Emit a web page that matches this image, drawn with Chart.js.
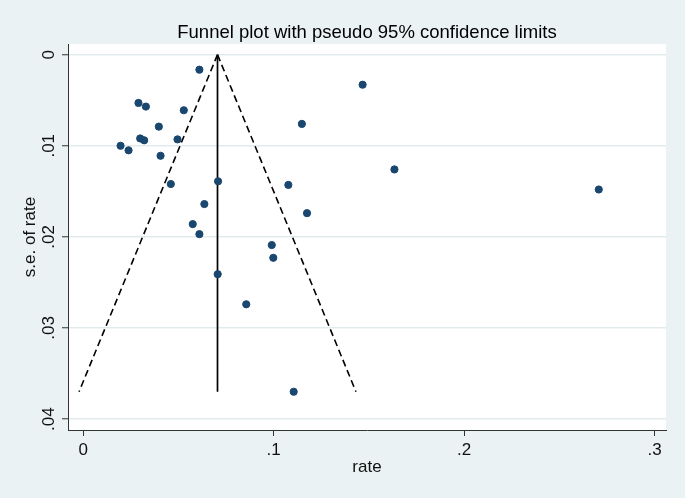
<!DOCTYPE html>
<html>
<head>
<meta charset="utf-8">
<script src="https://cdn.jsdelivr.net/npm/chart.js@4/dist/chart.umd.min.js"></script>
<style>
  html, body { margin: 0; padding: 0; background: #EAF2F3; }
  #wrap { width: 685px; height: 498px; }
</style>
</head>
<body>
<div id="wrap"><canvas id="grafico" width="685" height="498"></canvas></div>
<script>
// Estudos (taxa e erro padrão)
const rateValues = [0.061, 0.1467, 0.029, 0.0329, 0.0528, 0.1148, 0.0397, 0.0299, 0.0495, 0.032,
  0.0196, 0.0238, 0.0406, 0.1634, 0.0708, 0.046, 0.1077, 0.2707, 0.0636, 0.1175,
  0.0575, 0.061, 0.099, 0.0998, 0.0706, 0.0856, 0.1105]
const seValues = [0.00165, 0.0033, 0.0053, 0.0057, 0.0061, 0.0076, 0.0079, 0.0092, 0.0093, 0.0094,
  0.0100, 0.0105, 0.0111, 0.0126, 0.0139, 0.0142, 0.0143, 0.0148, 0.0164, 0.0174,
  0.0186, 0.0197, 0.0209, 0.0223, 0.0241, 0.0274, 0.0370]

// Linhas do funil: [rate, se]
const centerLine = [[0.0705, 0], [0.0705, 0.037]]
const lowerLimit = [[0.0705, 0], [-0.0022, 0.037]]
const upperLimit = [[0.0705, 0], [0.1432, 0.037]]

const xTicks = [0, 0.1, 0.2, 0.3]
const xTickLabels = ["0", ".1", ".2", ".3"]
const yTicks = [0, 0.01, 0.02, 0.03, 0.04]
const yTickLabels = ["0", ".01", ".02", ".03", ".04"]

const titulo = "Funnel plot with pseudo 95% confidence limits"
const fonte = "'Liberation Sans', Arial, sans-serif"

const toPts = arr => arr.map(([x, y]) => ({ x, y }))

// fundo da figura e área branca do gráfico
const fundoPlugin = {
  id: "fundo",
  beforeDraw(chart) {
    const { ctx, chartArea: a } = chart
    ctx.save()
    ctx.fillStyle = "#EAF2F3"
    ctx.fillRect(0, 0, chart.width, chart.height)
    ctx.fillStyle = "#FFFFFF"
    ctx.fillRect(a.left, a.top, a.right - a.left, a.bottom - a.top)
    ctx.restore()
  },
  afterDraw(chart) {
    const { ctx, chartArea: a } = chart
    ctx.save()
    ctx.fillStyle = "#000000"
    ctx.font = "18.5px " + fonte
    ctx.textAlign = "center"
    ctx.textBaseline = "middle"
    ctx.fillText(titulo, (a.left + a.right) / 2, 32.5)
    ctx.restore()
  }
}

const linha = (pts, dash) => ({
  type: "scatter",
  data: toPts(pts),
  showLine: true,
  borderColor: "#000000",
  borderWidth: dash ? 1.6 : 1.7,
  borderDash: dash ? [7, 4] : [],
  pointRadius: 0,
  fill: false
})

new Chart(document.getElementById("grafico"), {
  type: "scatter",
  data: {
    datasets: [
      {
        data: rateValues.map((r, i) => ({ x: r, y: seValues[i] })),
        backgroundColor: "#1A476F",
        borderColor: "#1A476F",
        borderWidth: 1,
        pointRadius: 3.6
      },
      linha(centerLine, false),
      linha(lowerLimit, true),
      linha(upperLimit, true)
    ]
  },
  options: {
    responsive: false,
    animation: false,
    layout: { padding: { left: 0, right: 19, top: 44, bottom: 0 } },
    plugins: {
      legend: { display: false },
      tooltip: { enabled: false },
      title: { display: false }
    },
    scales: {
      x: {
        type: "linear",
        min: -0.008,
        max: 0.306,
        afterFit: s => { s.height = 68 },
        afterBuildTicks: s => { s.ticks = xTicks.map(v => ({ value: v })) },
        border: { display: true, color: "#333333", width: 1 },
        grid: { drawOnChartArea: false, drawTicks: true, tickLength: 6, tickColor: "#333333", tickWidth: 1 },
        ticks: {
          padding: 4,
          color: "#111111",
          font: { family: fonte, size: 17 },
          maxRotation: 0,
          callback: (v, i) => xTickLabels[i]
        },
        title: {
          display: true,
          text: "rate",
          color: "#111111",
          font: { family: fonte, size: 17 },
          padding: { top: 0, bottom: 20 }
        }
      },
      y: {
        type: "linear",
        reverse: true,
        min: -0.00117,
        max: 0.0412,
        afterFit: s => { s.width = 68 },
        afterBuildTicks: s => { s.ticks = yTicks.map(v => ({ value: v })) },
        border: { display: true, color: "#333333", width: 1 },
        grid: { color: "#E1EBEE", lineWidth: 1.5, tickLength: 6, tickColor: "#333333", tickWidth: 1 },
        ticks: {
          padding: 1,
          color: "#111111",
          font: { family: fonte, size: 17 },
          minRotation: 90,
          maxRotation: 90,
          crossAlign: "center",
          callback: (v, i) => yTickLabels[i]
        },
        title: {
          display: true,
          text: "s.e. of rate",
          color: "#111111",
          font: { family: fonte, size: 17 },
          padding: { top: 20, bottom: 0 }
        }
      }
    }
  },
  plugins: [fundoPlugin]
})
</script>
</body>
</html>
